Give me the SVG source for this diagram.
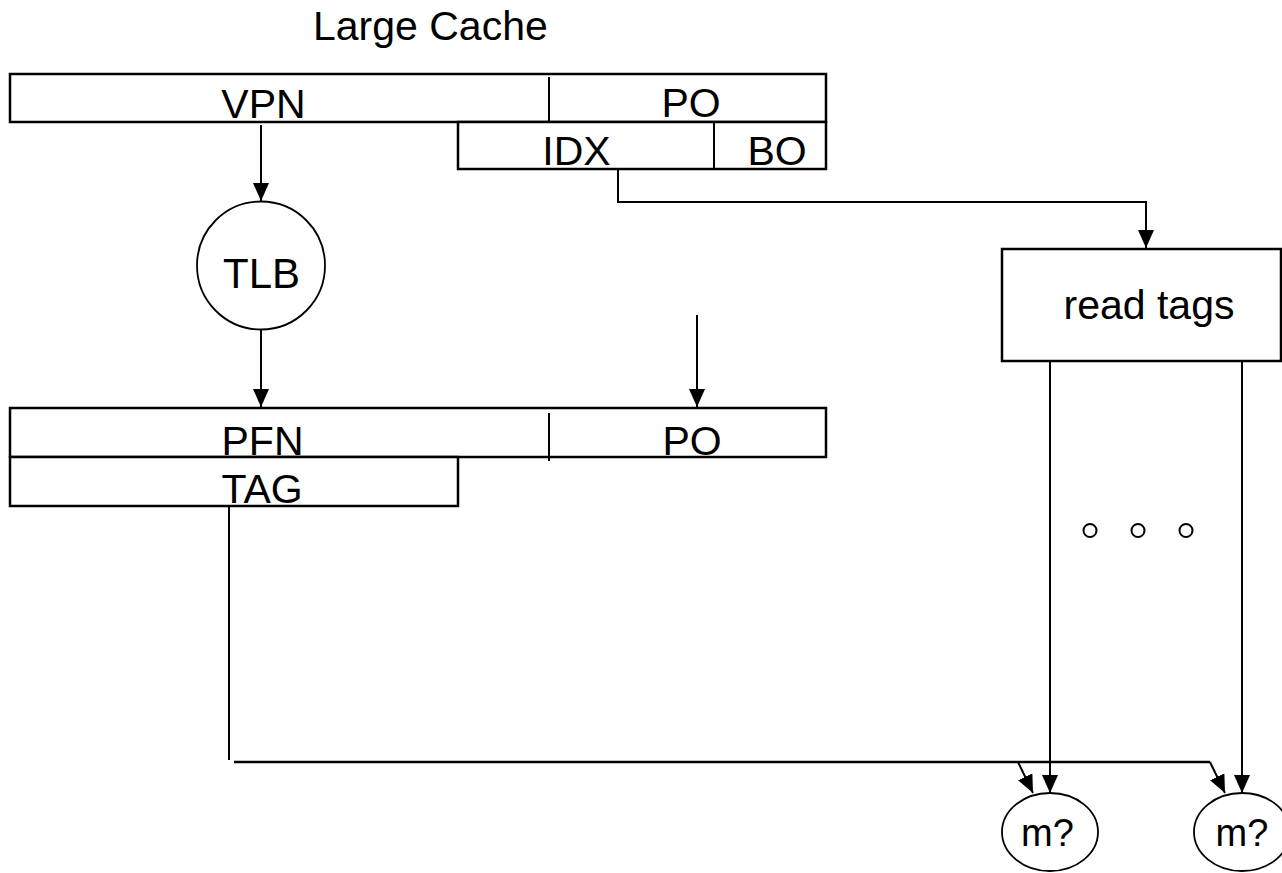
<svg xmlns="http://www.w3.org/2000/svg" width="1282" height="873" viewBox="0 0 1282 873">
  <style>
    .box { fill: #ffffff; stroke: #000000; stroke-width: 2.5; }
    .div { fill: none; stroke: #000000; stroke-width: 2; }
    .wire { fill: none; stroke: #000000; stroke-width: 2; }
    .node { fill: #ffffff; stroke: #000000; stroke-width: 1.8; }
    .dot { fill: none; stroke: #000000; stroke-width: 2; }
    .lbl { font-family: "Liberation Sans", Arial, sans-serif; font-size: 41px; fill: #000000; text-anchor: middle; }
    .small { font-size: 38px; }
  </style>
  <defs>
    <marker id="arr" markerUnits="userSpaceOnUse" markerWidth="18" markerHeight="16" viewBox="0 0 18 16" refX="18" refY="8" orient="auto">
      <path d="M0 0 L18 8 L0 16 Z" fill="#000000"/>
    </marker>
  </defs>

  <text class="lbl" x="313" y="40" style="text-anchor:start">Large Cache</text>

  <g id="va">
    <rect class="box" x="10" y="74" width="816" height="48"/>
    <line class="div" x1="549" y1="77" x2="549" y2="125"/>
    <text class="lbl" x="263.5" y="118">VPN</text>
    <text class="lbl" x="691" y="117">PO</text>
  </g>

  <g id="idxbo">
    <rect class="box" x="458" y="122" width="368" height="47"/>
    <line class="div" x1="714" y1="122" x2="714" y2="169"/>
    <text class="lbl" x="576.5" y="165">IDX</text>
    <text class="lbl" x="777" y="165">BO</text>
  </g>

  <g id="tlb">
    <circle class="node" cx="261" cy="265.5" r="64"/>
    <text class="lbl" x="261.5" y="288" style="font-size:42px">TLB</text>
  </g>

  <g id="pa">
    <rect class="box" x="10" y="408" width="816" height="49"/>
    <line class="div" x1="549" y1="413" x2="549" y2="461"/>
    <text class="lbl" x="262.5" y="455">PFN</text>
    <text class="lbl" x="692" y="455">PO</text>
  </g>

  <g id="tag">
    <rect class="box" x="10" y="457" width="448" height="49"/>
    <text class="lbl" x="262" y="503">TAG</text>
  </g>

  <g id="readtags">
    <rect class="box" x="1002" y="249" width="279" height="112"/>
    <text class="lbl" x="1149" y="319">read tags</text>
  </g>

  <g id="dots">
    <circle class="dot" cx="1090" cy="530.5" r="6.5"/>
    <circle class="dot" cx="1138" cy="530.5" r="6.5"/>
    <circle class="dot" cx="1186" cy="530.5" r="6.5"/>
  </g>

  <g id="m1">
    <ellipse class="node" cx="1050" cy="832" rx="48" ry="39"/>
    <text class="lbl small" x="1047.5" y="846">m?</text>
  </g>

  <g id="m2">
    <ellipse class="node" cx="1242" cy="832" rx="48" ry="39"/>
    <text class="lbl small" x="1242" y="846">m?</text>
  </g>

  <g id="connectors">
    <line class="wire" x1="261" y1="125" x2="261" y2="201" marker-end="url(#arr)"/>
    <line class="wire" x1="261" y1="329" x2="261" y2="407" marker-end="url(#arr)"/>
    <line class="wire" x1="697" y1="315" x2="697" y2="407" marker-end="url(#arr)"/>
    <path class="wire" d="M618 169 V202 H1146 V248" marker-end="url(#arr)"/>
    <line class="wire" x1="229" y1="506" x2="229" y2="760"/>
    <line class="wire" x1="234" y1="762" x2="1210" y2="762" style="stroke-width:2.5"/>
    <line class="wire" x1="1018" y1="762" x2="1033" y2="793" marker-end="url(#arr)"/>
    <line class="wire" x1="1210" y1="762" x2="1225" y2="793" marker-end="url(#arr)"/>
    <line class="wire" x1="1050" y1="361" x2="1050" y2="793" marker-end="url(#arr)"/>
    <line class="wire" x1="1242" y1="361" x2="1242" y2="793" marker-end="url(#arr)"/>
  </g>
</svg>
